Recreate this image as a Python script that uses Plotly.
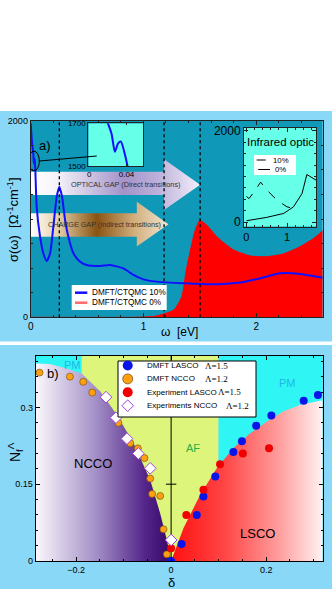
import plotly.graph_objects as go

W, H = 332, 589

# ---- panel a: optical conductivity (DMFT/CTQMC) ----
omega_10 = [0, 0.01, 0.02, 0.024, 0.0275, 0.031, 0.034, 0.038, 0.041, 0.053, 0.083, 0.112,
            0.142, 0.172, 0.201, 0.231, 0.254, 0.278, 0.305, 0.334, 0.379, 0.438, 0.497,
            0.615, 0.704, 0.822, 0.911, 1.0, 1.118, 1.355, 1.651, 1.858, 2.036, 2.213,
            2.391, 2.59]
sigma_10 = [1973, 1800, 1700, 1650, 1567, 1606, 1614, 1559, 1500, 1125, 820, 651,
            573, 651, 922, 1227, 1329, 1227, 990, 820, 651, 566, 532,
            522, 532, 498, 431, 386, 363, 346, 336, 353, 397, 447,
            441, 403]

omega_0 = [0, 0.9, 1.0, 1.1, 1.18, 1.27, 1.34, 1.38, 1.43, 1.46, 1.50, 1.56, 1.65,
           1.8, 1.95, 2.09, 2.24, 2.39, 2.51, 2.59]
sigma_0 = [0, 0, 3, 10, 34, 75, 210, 481, 753, 888, 983, 939, 820,
           685, 624, 617, 644, 719, 803, 881]

gap_lines = [0.254, 1.183, 1.503]  # eV

# infrared inset
ir_omega_10 = [0, 0.065, 0.186, 0.35, 0.51, 0.756, 1.0, 1.24]
ir_sigma_10 = [560, 515, 660, 876, 696, 478, 333, 283]
ir_omega_0 = [0, 0.5, 0.92, 1.16, 1.37, 1.49, 1.73]
ir_sigma_0 = [28, 102, 189, 333, 624, 1043, 913]

# ---- panel b: N_f vs doping ----
ncco_edge_delta = [-0.285, -0.255, -0.22, -0.188, -0.149, -0.114, -0.079, -0.044, -0.023, -0.009, 0]
ncco_edge_n = [0.386, 0.385, 0.376, 0.366, 0.331, 0.285, 0.230, 0.158, 0.093, 0.041, 0]
lsco_edge_delta = [0, 0.012, 0.026, 0.061, 0.096, 0.131, 0.166, 0.201, 0.236, 0.272, 0.319]
lsco_edge_n = [0, 0.028, 0.064, 0.129, 0.181, 0.22, 0.249, 0.272, 0.292, 0.305, 0.314]
af_bounds = [-0.188, 0.1]

dmft_lasco_delta = [0, 0.022, 0.054, 0.068, 0.093, 0.131, 0.149, 0.179, 0.211, 0.279, 0.309]
dmft_lasco_n = [0, 0.033, 0.09, 0.126, 0.165, 0.213, 0.234, 0.264, 0.284, 0.313, 0.324]
dmft_ncco_delta = [-0.277, -0.213, -0.185, -0.166, -0.111, -0.086, -0.070, -0.056, -0.044,
                   -0.040, -0.023, -0.016, -0.009]
dmft_ncco_n = [0.368, 0.360, 0.350, 0.329, 0.270, 0.230, 0.220, 0.201, 0.161,
               0.131, 0.127, 0.062, 0.013]
exp_lasco_delta = [0, 0.032, 0.068, 0.103, 0.151, 0.206]
exp_lasco_n = [0.025, 0.09, 0.139, 0.189, 0.210, 0.220]
exp_ncco_delta = [-0.137, -0.116, -0.093, -0.069, -0.044, 0]
exp_ncco_n = [0.320, 0.280, 0.239, 0.210, 0.181, 0.041]

legend_a = ["DMFT/CTQMC 10%", "DMFT/CTQMC 0%"]
legend_ir = ["10%", "0%"]
legend_b = [("DMFT LASCO", "\u039b=1.5"), ("DMFT NCCO", "\u039b=1.2"),
            ("Experiment LASCO", "\u039b=1.5"), ("Experiments NCCO", "\u039b=1.2")]

FONT = "Liberation Sans"
SERIF = "Liberation Serif"
LIGHT_BLUE = "#8ad8f8"
TEAL = "#0f98b8"
INSET_BG = "#66ffe8"
CYAN = "#30f5f5"
AF_GREEN = "#ddf57a"
BLUE = "#1010ff"
C_LASCO = "#0a14e8"
C_NCCO = "#ffa010"
C_EXP = "#f00000"
C_DIAM = "#a43ee0"


def px(x):
    return x / W


def py(y):
    return 1 - y / H


def arrow(x0, x_head, x_tip, body, head):
    yc = (head[0] + head[1]) / 2
    xs = [x0, x_head, x_head, x_tip, x_head, x_head, x0, x0]
    ys = [body[0], body[0], head[0], yc, head[1], body[1], body[1], body[0]]
    return xs, ys


def axis(size=9, ticklen=4, linecolor="#222222", **kw):
    base = dict(showline=True, linecolor=linecolor, linewidth=1, mirror="allticks",
                ticks="inside", tickcolor=linecolor, ticklen=ticklen, showgrid=False,
                zeroline=False, automargin=False,
                tickfont=dict(family=FONT, size=size, color="black"))
    base.update(kw)
    return base


def ann(text, x, y, size, color="black", family=FONT, xanchor="center", **kw):
    return dict(text=text, x=px(x), y=py(y), xref="paper", yref="paper", showarrow=False,
                xanchor=xanchor, yanchor="middle",
                font=dict(family=family, size=size, color=color), **kw)


def prect(x0, x1, y0, y1, fill, line=None, layer="above"):
    return dict(type="rect", xref="paper", yref="paper", x0=px(x0), x1=px(x1),
                y0=py(y1), y1=py(y0), fillcolor=fill,
                line=line or dict(width=0), layer=layer)


def pline(x0, x1, y, color, width=1, dash="solid"):
    return dict(type="line", xref="paper", yref="paper", x0=px(x0), x1=px(x1),
                y0=py(y), y1=py(y), line=dict(color=color, width=width, dash=dash),
                layer="above")


fig = go.Figure()

# arrows (under the curves)
xs, ys = arrow(0, gap_lines[1], gap_lines[2], (1244, 1481), (1092, 1607))
fig.add_trace(go.Scatter(
    x=xs, y=ys, mode="lines", fill="toself", line=dict(width=0), hoverinfo="skip",
    showlegend=False,
    fillgradient=dict(type="horizontal", colorscale=[
        [0, "#ffffff"], [0.15, "#f6f4fa"], [0.55, "#a393c9"], [0.75, "#bcb0d9"], [1, "#f3effa"]]),
))
xs, ys = arrow(0, 0.941, 1.222, (820, 1058), (719, 1176))
fig.add_trace(go.Scatter(
    x=xs, y=ys, mode="lines", fill="toself", line=dict(width=0), hoverinfo="skip",
    showlegend=False,
    fillgradient=dict(type="horizontal", colorscale=[
        [0, "#ffffff"], [0.2, "#e3cfa8"], [0.48, "#8a5412"], [0.75, "#d2ae7c"], [1, "#f2e6d2"]]),
))

fig.add_trace(go.Scatter(
    x=omega_0, y=sigma_0, mode="lines", fill="tozeroy", fillcolor="#ff0000",
    line=dict(color="#ff0000", width=1, shape="spline", smoothing=0.6),
    name=legend_a[1], showlegend=False, hoverinfo="skip",
))
fig.add_trace(go.Scatter(
    x=omega_10, y=sigma_10, mode="lines", name=legend_a[0], showlegend=False,
    line=dict(color=BLUE, width=2, shape="spline", smoothing=0.6),
))

# inset 1: zoom on low frequency
fig.add_trace(go.Scatter(
    x=[-0.001, 0.058, 0.058, -0.001, -0.001], y=[1500, 1500, 1700, 1700, 1500],
    xaxis="x2", yaxis="y2", mode="lines", fill="toself", fillcolor=INSET_BG,
    line=dict(width=0), showlegend=False, hoverinfo="skip",
))
fig.add_trace(go.Scatter(
    x=omega_10, y=sigma_10, xaxis="x2", yaxis="y2", mode="lines",
    line=dict(color=BLUE, width=2, shape="spline", smoothing=0.6),
    showlegend=False, hoverinfo="skip",
))

# inset 2: infrared optics
fig.add_trace(go.Scatter(
    x=[-0.06, 1.715, 1.715, -0.06, -0.06], y=[-103, -103, 2072, 2072, -103],
    xaxis="x3", yaxis="y3", mode="lines", fill="toself", fillcolor=INSET_BG,
    line=dict(width=0), showlegend=False, hoverinfo="skip",
))
fig.add_trace(go.Scatter(
    x=ir_omega_10, y=ir_sigma_10, xaxis="x3", yaxis="y3", mode="lines", name=legend_ir[0],
    line=dict(color="black", width=1, dash="dash"), showlegend=False,
))
fig.add_trace(go.Scatter(
    x=ir_omega_0, y=ir_sigma_0, xaxis="x3", yaxis="y3", mode="lines", name=legend_ir[1],
    line=dict(color="black", width=1), showlegend=False,
))

# panel b domes
fig.add_trace(go.Scatter(
    x=ncco_edge_delta + [ncco_edge_delta[0]], y=ncco_edge_n + [0],
    xaxis="x4", yaxis="y4", mode="lines", fill="toself", line=dict(width=0),
    showlegend=False, hoverinfo="skip",
    fillgradient=dict(type="horizontal", colorscale=[
        [0, "#fbf8fc"], [0.45, "#a28ec6"], [0.8, "#55278a"], [1, "#360667"]]),
))
fig.add_trace(go.Scatter(
    x=lsco_edge_delta + [lsco_edge_delta[-1]], y=lsco_edge_n + [0],
    xaxis="x4", yaxis="y4", mode="lines", fill="toself", line=dict(width=0),
    showlegend=False, hoverinfo="skip",
    fillgradient=dict(type="horizontal", colorscale=[
        [0, "#ff1010"], [0.35, "#ff4545"], [0.7, "#ff9a9a"], [1, "#fff2f2"]]),
))
# centre axis at delta = 0 with its ticks
cx, cy = [0, 0, None], [0, 0.401, None]
for t in [0.15, 0.3]:
    cx += [-0.011, 0.011, None]
    cy += [t, t, None]
fig.add_trace(go.Scatter(x=cx, y=cy, xaxis="x4", yaxis="y4", mode="lines",
                         line=dict(color="black", width=1), showlegend=False, hoverinfo="skip"))

fig.add_trace(go.Scatter(
    x=dmft_lasco_delta, y=dmft_lasco_n, xaxis="x4", yaxis="y4", mode="markers",
    name=" ".join(legend_b[0]), showlegend=False,
    marker=dict(color=C_LASCO, size=8, line=dict(width=0)),
))
fig.add_trace(go.Scatter(
    x=dmft_ncco_delta, y=dmft_ncco_n, xaxis="x4", yaxis="y4", mode="markers",
    name=" ".join(legend_b[1]), showlegend=False,
    marker=dict(color=C_NCCO, size=7, line=dict(width=0.6, color="#6b4a10")),
))
fig.add_trace(go.Scatter(
    x=exp_lasco_delta, y=exp_lasco_n, xaxis="x4", yaxis="y4", mode="markers",
    name=" ".join(legend_b[2]), showlegend=False,
    marker=dict(color=C_EXP, size=8, line=dict(width=0)),
))
fig.add_trace(go.Scatter(
    x=exp_ncco_delta, y=exp_ncco_n, xaxis="x4", yaxis="y4", mode="markers",
    name=" ".join(legend_b[3]), showlegend=False,
    marker=dict(symbol="diamond", color="white", size=9, line=dict(width=1, color=C_DIAM)),
))

shapes = [
    prect(0, W, 111, 341.5, LIGHT_BLUE, layer="below"),
    prect(0, W, 345, H, LIGHT_BLUE, layer="below"),
    dict(type="rect", xref="x", yref="y", x0=0, x1=2.59, y0=0, y1=2000,
         fillcolor=TEAL, line=dict(width=0), layer="below"),
    dict(type="rect", xref="x4", yref="y4", x0=-0.285, x1=af_bounds[0], y0=0, y1=0.401,
         fillcolor=CYAN, line=dict(width=0), layer="below"),
    dict(type="rect", xref="x4", yref="y4", x0=af_bounds[0], x1=af_bounds[1], y0=0, y1=0.401,
         fillcolor=AF_GREEN, line=dict(width=0), layer="below"),
    dict(type="rect", xref="x4", yref="y4", x0=af_bounds[1], x1=0.319, y0=0, y1=0.401,
         fillcolor=CYAN, line=dict(width=0), layer="below"),
    # zoom marker: ellipse and connector to inset
    dict(type="circle", xref="x", yref="y", x0=-0.02, x1=0.077, y0=1490, y1=1690,
         line=dict(color="black", width=1), layer="above"),
    dict(type="line", xref="x", yref="y", x0=0.077, x1=0.586, y0=1590, y1=1641,
         line=dict(color="black", width=1), layer="above"),
]
for g in gap_lines:
    shapes.append(dict(type="line", xref="x", yref="y", x0=g, x1=g, y0=0, y1=2000,
                       line=dict(color="black", width=1.3, dash="dot"), layer="above"))

annotations = [
    ann("a)", 45, 145, 13),
    ann("OPTICAL GAP (Direct transitions)", 125, 184, 7.3, "#333333"),
    ann("CHARGE GAP (Indirect transitions)", 104, 225, 7.2, "#333333"),
    ann("Infrared optic", 280, 141.7, 11.5),
    ann("\u03c3(\u03c9)  [\u03a9<sup>-1</sup>cm<sup>-1</sup>]", 13, 220, 13, textangle=-90),
    ann("\u03c9  [eV]", 179, 332, 12),
    ann("b)", 53, 373, 13),
    ann("PM", 72, 365, 11, "#1fb5e5"),
    ann("PM", 287, 383, 11, "#1fb5e5"),
    ann("AF", 193, 448, 11, "#27ae48"),
    ann("NCCO", 93, 463, 13),
    ann("LSCO", 257, 533, 13),
    ann("N<sub>f</sub><sup>\u039b</sup>", 15, 452, 14, textangle=-90),
    ann("\u03b4", 171, 582, 13),
]

# legend of panel a
shapes.append(prect(71.7, 166.7, 285, 310, "white"))
for i, (lab, col) in enumerate(zip(legend_a, [BLUE, "#ff6a6a"])):
    yy = 292.7 + 10 * i
    shapes.append(pline(75, 87.3, yy, col, 2.5))
    annotations.append(ann(lab, 89.5, yy, 8.2, xanchor="left"))

# legend of the infrared inset
shapes.append(prect(254, 296, 155, 175, "white"))
for i, (lab, dash) in enumerate(zip(legend_ir, ["dash", "solid"])):
    yy = 160 + 9.5 * i
    shapes.append(pline(256.7 + 1.5 * i, 270, yy, "black", 1, dash))
    annotations.append(ann(lab, 271 + 2.3 * i, yy, 7.8, xanchor="left"))

# legend of panel b
shapes.append(prect(118, 256, 361, 417, "white", line=dict(color="black", width=1)))
lam_x = [203, 203, 216, 224]
for i, ((lab, lam), col) in enumerate(zip(legend_b, [C_LASCO, C_NCCO, C_EXP, None])):
    yy = 365.5 + 13.4 * i
    mx = 127.7
    if col is None:
        r = 5.8
        path = (f"M {px(mx - r)},{py(yy)} L {px(mx)},{py(yy - r)} "
                f"L {px(mx + r)},{py(yy)} L {px(mx)},{py(yy + r)} Z")
        shapes.append(dict(type="path", xref="paper", yref="paper", path=path,
                           fillcolor="white", line=dict(color=C_DIAM, width=1), layer="above"))
    else:
        r = 5
        edge = dict(color="#6b4a10", width=0.7) if col == C_NCCO else dict(width=0)
        shapes.append(dict(type="circle", xref="paper", yref="paper",
                           x0=px(mx - r), x1=px(mx + r), y0=py(yy + r), y1=py(yy - r),
                           fillcolor=col, line=edge, layer="above"))
    annotations.append(ann(lab, 145, yy, 8, xanchor="left"))
    annotations.append(ann(lam, lam_x[i], yy, 9, family=SERIF, xanchor="left"))

fig.update_layout(
    width=W, height=H, margin=dict(l=0, r=0, t=0, b=0, autoexpand=False),
    paper_bgcolor="white", plot_bgcolor="rgba(0,0,0,0)",
    font=dict(family=FONT, color="black"), showlegend=False,
    shapes=shapes, annotations=annotations,
    xaxis=axis(size=10, domain=[px(30.7), px(322.7)], range=[0, 2.59], anchor="y",
               tickvals=[0, 1, 2], minor=dict(ticks="inside", ticklen=2, dtick=0.2)),
    yaxis=axis(domain=[py(317.3), py(120.7)], range=[0, 2000], anchor="x",
               tickvals=[0, 2000], minor=dict(ticks="inside", ticklen=2, dtick=250)),
    xaxis2=axis(size=8, ticklen=2, domain=[px(88.3), px(143.3)], range=[-0.001, 0.058],
                anchor="y2", tickvals=[0, 0.04], ticktext=["0", "0.04"]),
    yaxis2=axis(size=8, ticklen=2, domain=[py(166), py(123.3)], range=[1500, 1700],
                anchor="x2", tickvals=[1500, 1700]),
    xaxis3=axis(size=11, domain=[px(244), px(316)], range=[-0.06, 1.715], anchor="y3",
                tickvals=[0, 1], minor=dict(ticks="inside", ticklen=2, dtick=0.2)),
    yaxis3=axis(size=12, domain=[py(226.7), py(127.7)], range=[-103, 2072], anchor="x3",
                tickvals=[0, 2000], minor=dict(ticks="inside", ticklen=2, dtick=250)),
    xaxis4=axis(linecolor="black", domain=[px(35.7), px(322.7)], range=[-0.285, 0.319],
                anchor="y4", tickvals=[-0.2, 0, 0.2],
                minor=dict(ticks="inside", ticklen=2, dtick=0.05)),
    yaxis4=axis(linecolor="black", domain=[py(561), py(355.7)], range=[0, 0.401],
                anchor="x4", tickvals=[0, 0.15, 0.3],
                minor=dict(ticks="inside", ticklen=2, dtick=0.03)),
)

fig.write_html("out.html", config={"displayModeBar": False},
               post_script="document.body.style.margin = '0';")
